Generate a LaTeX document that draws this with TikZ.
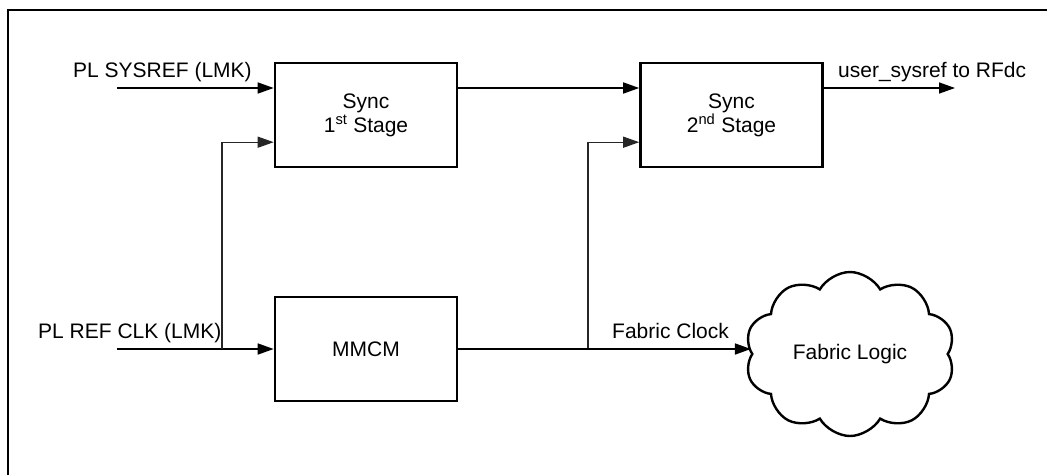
\documentclass[tikz,border=0pt]{standalone}
\usepackage{fontspec}
\setmainfont{Liberation Sans}
\usetikzlibrary{arrows.meta,shapes.symbols,calc}
\begin{document}
\begin{tikzpicture}[x=1pt,y=-1pt,
  font=\fontsize{21}{24}\selectfont,
  blockbox/.style={draw,line width=2.6pt,minimum width=182pt,minimum height=104pt,inner sep=0pt,align=center},
  mainline/.style={line width=1.6pt,-{Triangle[length=16pt,width=11pt]}},
  branch/.style={line width=1.3pt,draw=black!85,-{Triangle[length=16pt,width=11pt]}},
  lbl/.style={inner sep=0pt,anchor=base west}]
\useasboundingbox (0,0) rectangle (1047,475);
% frame
\draw[line width=2pt] (7.5,475) -- (7.5,10) -- (1047,10);
% blocks
\node[blockbox] (s1) at (366,115) {Sync\\1\textsuperscript{st} Stage};
\node[blockbox] (s2) at (731.5,115) {Sync\\2\textsuperscript{nd} Stage};
\node[blockbox] (mmcm) at (366,349) {MMCM};
\node[cloud,draw,line width=2.4pt,cloud puffs=10,cloud puff arc=120,aspect=1.3,
      minimum width=210pt,minimum height=164pt,inner sep=0pt] (cloud) at (850,354) {Fabric Logic};
% coordinates
\coordinate (sysin) at (117,88);
\coordinate (clkin) at (117,349);
\coordinate (j1) at (222,349);
\coordinate (j2) at (588,349);
\coordinate (out) at (955,88);
\coordinate (s1lo) at ($(s1.south west)!0.245!(s1.north west)$);
\coordinate (s2lo) at ($(s2.south west)!0.245!(s2.north west)$);
% labels
\node[lbl] (tsys) at (73,77.5) {PL SYSREF (LMK)};
\node[lbl] (tclk) at (38,338) {PL REF CLK (LMK)};
\node[lbl] (tout) at (838,77.5) {user\_sysref to RFdc};
\node[lbl] (tfab) at (612,338) {Fabric Clock};
% connectors
\draw[mainline] (sysin) -- (sysin -| s1.west);
\draw[mainline] (clkin) -- (mmcm.west);
\draw[branch] (j1) |- (s1lo);
\draw[mainline] (s1.east |- sysin) -- (s2.west |- sysin);
\draw[mainline] (s2.east |- sysin) -- (out);
\draw[branch] (j2) |- (s2lo);
\draw[mainline] (mmcm.east) -- (mmcm.east -| cloud.west);
\end{tikzpicture}
\end{document}
